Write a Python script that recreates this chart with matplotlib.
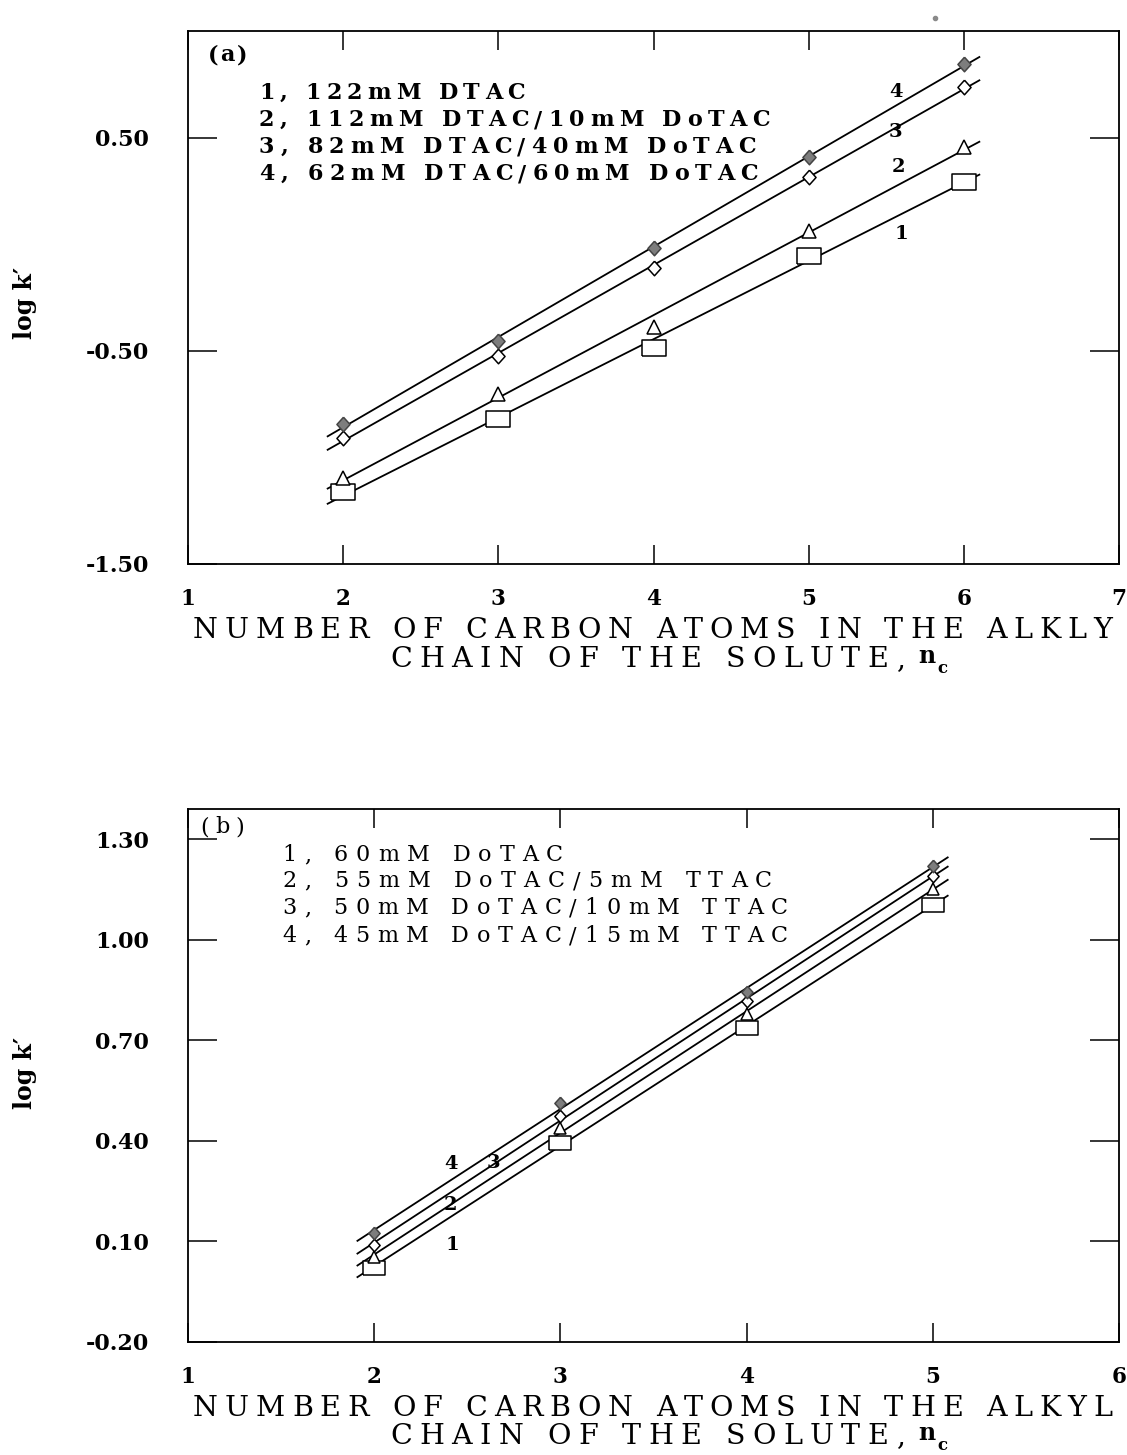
import numpy as np
import matplotlib
matplotlib.use("Agg")
import matplotlib.pyplot as plt
from matplotlib.font_manager import FontProperties, findfont
from matplotlib.ft2font import FT2Font
from matplotlib.lines import Line2D

W, H, DPI = 1127, 1455, 100
SERIF = "DejaVu Serif"

# ---- panel (a) data ----
nc_a = [2, 3, 4, 5, 6]
logk_a_1 = [-1.162, -0.819, -0.486, -0.054, 0.293]
logk_a_2 = [-1.096, -0.702, -0.387, 0.063, 0.458]
logk_a_3 = [-0.908, -0.523, -0.110, 0.317, 0.735]
logk_a_4 = [-0.843, -0.453, -0.016, 0.411, 0.843]
legend_a = ["1, 122mM DTAC",
            "2, 112mM DTAC/10mM DoTAC",
            "3, 82mM DTAC/40mM DoTAC",
            "4, 62mM DTAC/60mM DoTAC"]
xticks_a = [1, 2, 3, 4, 5, 6, 7]
yticks_a = [-1.50, -0.50, 0.50]
# curve numbers written next to the lines (x, y in data units)
curve_tags_a = [("1", 5.60, 0.050), ("2", 5.58, 0.364), ("3", 5.56, 0.528), ("4", 5.56, 0.716)]

# ---- panel (b) data ----
nc_b = [2, 3, 4, 5]
logk_b_1 = [0.021, 0.395, 0.738, 1.103]
logk_b_2 = [0.054, 0.439, 0.777, 1.151]
logk_b_3 = [0.090, 0.475, 0.816, 1.190]
logk_b_4 = [0.126, 0.514, 0.843, 1.219]
legend_b = ["1, 60mM DoTAC",
            "2, 55mM DoTAC/5mM TTAC",
            "3, 50mM DoTAC/10mM TTAC",
            "4, 45mM DoTAC/15mM TTAC"]
xticks_b = [1, 2, 3, 4, 5, 6]
yticks_b = [-0.20, 0.10, 0.40, 0.70, 1.00, 1.30]
curve_tags_b = [("1", 2.42, 0.090), ("2", 2.41, 0.209), ("3", 2.64, 0.335), ("4", 2.41, 0.332)]

# marker shapes: wide open box, open triangle, open / filled diamond
RECT = [(-1, -0.66), (1, -0.66), (1, 0.66), (-1, 0.66), (-1, -0.66)]
DIAM = [(0, 1), (0.9, 0), (0, -1), (-0.9, 0), (0, 1)]


def spaced(fig, s, x0, x1, yc, size, weight="bold"):
    """letter-spaced text, spread from pixel x0 to x1, centred on row yc"""
    fp = FontProperties(family=SERIF, weight=weight, size=size)
    font = FT2Font(findfont(fp))
    font.set_size(size, 72)
    adv = [font.load_char(ord(c)).linearHoriAdvance / 65536 * DPI / 72 for c in s]
    track = (x1 - x0 - sum(adv)) / max(len(s) - 1, 1)
    base = yc + 0.365 * size * DPI / 72
    x = x0
    for c, a in zip(s, adv):
        if c != " ":
            fig.text(x / W, 1 - base / H, c, fontproperties=fp, ha="left", va="baseline")
        x += a + track


def panel(ax, nc, series, xfit, ms_box, ms_tri, ms_dia):
    styles = [dict(marker=RECT, ms=ms_box, mfc="white", mec="black"),
              dict(marker="^", ms=ms_tri, mfc="white", mec="black"),
              dict(marker=DIAM, ms=ms_dia, mfc="white", mec="black"),
              dict(marker=DIAM, ms=ms_dia, mfc="#7d7d7d", mec="#444444")]
    xs = np.array(xfit)
    for y, st in zip(series, styles):
        k = np.polyfit(nc, y, 1)
        ax.plot(xs, np.polyval(k, xs), color="black", lw=1.3, zorder=2)
        ax.plot(nc, y, ls="none", mew=1.1, zorder=3, **st)
    for sp in ax.spines.values():
        sp.set_linewidth(1.3)
    ax.tick_params(axis="both", which="major", direction="in", top=True, right=True,
                   width=1.1, colors="black")
    ax.tick_params(axis="x", length=14, pad=17, labelsize=15.5)
    ax.tick_params(axis="y", length=21, pad=28, labelsize=16)


fig = plt.figure(figsize=(W / DPI, H / DPI), dpi=DPI)

# ---------------- (a) ----------------
ax1 = fig.add_axes([188 / W, 1 - 564 / H, 931 / W, 533 / H])
panel(ax1, nc_a, [logk_a_1, logk_a_2, logk_a_3, logk_a_4], [1.9, 6.1], 17, 9.5, 10.5)
ax1.set_xlim(1, 7)
ax1.set_ylim(-1.5, 1.0)
ax1.set_xticks(xticks_a)
ax1.set_yticks(yticks_a)
ax1.set_xticklabels([str(v) for v in xticks_a])
ax1.set_yticklabels(["%.2f" % v for v in yticks_a])
for lab in ax1.get_xticklabels() + ax1.get_yticklabels():
    lab.set_fontfamily(SERIF)
    lab.set_fontweight("bold")
for t, x, y in curve_tags_a:
    ax1.text(x, y, t, family=SERIF, weight="bold", fontsize=14, ha="center", va="center")

spaced(fig, "(a)", 208, 247, 53, 16)
for s, x1, yc in zip(legend_a, [525, 770, 756, 758], [91, 118, 145, 172]):
    spaced(fig, s, 259, x1, yc, 16)

spaced(fig, "NUMBER OF CARBON ATOMS IN THE ALKLY", 193, 1112, 628, 20.5, "normal")
spaced(fig, "CHAIN OF THE SOLUTE,", 390, 905, 657, 20.5, "normal")
fig.text(918 / W, 1 - 663 / H, "n", family=SERIF, weight="bold", fontsize=17, ha="left", va="baseline")
fig.text(937 / W, 1 - 673 / H, "c", family=SERIF, weight="bold", fontsize=12, ha="left", va="baseline")
fig.text(25 / W, 1 - 303 / H, "log k\u2032", family=SERIF, weight="bold", fontsize=17,
         rotation=90, ha="center", va="center")

# ---------------- (b) ----------------
ax2 = fig.add_axes([188 / W, 1 - 1342 / H, 931 / W, 533 / H])
panel(ax2, nc_b, [logk_b_1, logk_b_2, logk_b_3, logk_b_4], [1.91, 5.08], 15.5, 8.5, 9)
ax2.set_xlim(1, 6)
ax2.set_ylim(-0.2, 1.39)
ax2.set_xticks(xticks_b)
ax2.set_yticks(yticks_b)
ax2.set_xticklabels([str(v) for v in xticks_b])
ax2.set_yticklabels(["%.2f" % v for v in yticks_b])
for lab in ax2.get_xticklabels() + ax2.get_yticklabels():
    lab.set_fontfamily(SERIF)
    lab.set_fontweight("bold")
for t, x, y in curve_tags_b:
    ax2.text(x, y, t, family=SERIF, weight="bold", fontsize=14, ha="center", va="center")

spaced(fig, "(b)", 200, 244, 825, 16, "normal")
for s, x1, yc in zip(legend_b, [563, 772, 788, 788], [853, 879, 906, 934]):
    spaced(fig, s, 282, x1, yc, 16, "normal")

spaced(fig, "NUMBER OF CARBON ATOMS IN THE ALKYL", 193, 1112, 1406, 20.5, "normal")
spaced(fig, "CHAIN OF THE SOLUTE,", 390, 905, 1434, 20.5, "normal")
fig.text(918 / W, 1 - 1440 / H, "n", family=SERIF, weight="bold", fontsize=17, ha="left", va="baseline")
fig.text(937 / W, 1 - 1450 / H, "c", family=SERIF, weight="bold", fontsize=12, ha="left", va="baseline")
fig.text(25 / W, 1 - 1073 / H, "log k\u2032", family=SERIF, weight="bold", fontsize=17,
         rotation=90, ha="center", va="center")

# stray speck above panel (a) in the scan
fig.add_artist(Line2D([935 / W], [1 - 18 / H], marker="o", ms=3, color="#8a8a8a",
                      transform=fig.transFigure))

fig.savefig("out.png", dpi=DPI)
